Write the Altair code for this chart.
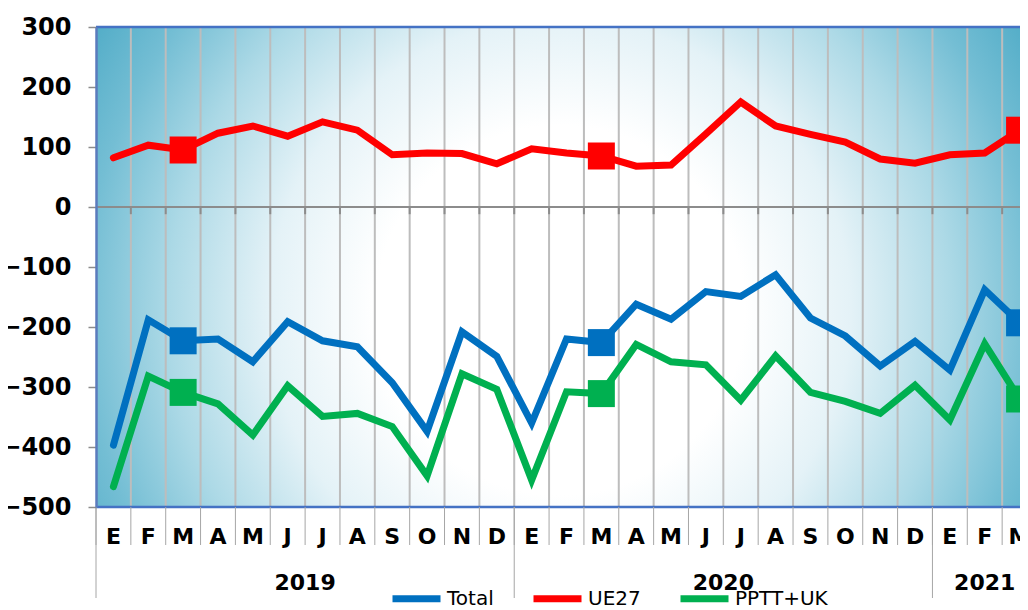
import altair as alt
import pandas as pd

months = ["E", "F", "M", "A", "M", "J", "J", "A", "S", "O", "N", "D",
          "E", "F", "M", "A", "M", "J", "J", "A", "S", "O", "N", "D",
          "E", "F", "M"]
years = ["2019", "2020", "2021"]
year_start = [0, 12, 24]
year_len = [12, 12, 3]

total = [-397, -188, -223, -220, -258, -191, -223, -233, -293, -374, -208, -249,
         -360, -220, -226, -162, -187, -141, -149, -113, -185, -215, -265, -224,
         -272, -138, -193]
ue27 = [82, 103, 95, 123, 135, 118, 142, 128, 87, 90, 89, 72,
        97, 90, 85, 68, 70, 122, 175, 135, 121, 108, 80, 73,
        87, 90, 128]
pptt = [-466, -282, -309, -328, -380, -298, -349, -344, -366, -448, -278, -304,
        -455, -308, -311, -229, -258, -263, -322, -248, -309, -324, -344, -297,
        -355, -228, -320]
marker_idx = [2, 14, 26]

series = ["Total", "UE27", "PPTT+UK"]
colors = ["#0070C0", "#FF0000", "#00B050"]
y_ticks = [-500, -400, -300, -200, -100, 0, 100, 200, 300]

W, H = 924, 480
NCOL = len(months)
COLW = 941 / NCOL
XMAX = W / COLW

rows = []
for name, vals in zip(series, [total, ue27, pptt]):
    for i, v in enumerate(vals):
        rows.append({"pos": i + 0.5, "value": v, "series": name,
                     "marker": i in marker_idx})
df = pd.DataFrame(rows)

xscale = alt.Scale(domain=[0, XMAX], nice=False, zero=False)
yscale = alt.Scale(domain=[-500, 300], nice=False, zero=False)
yaxis = alt.Axis(values=y_ticks, title=None, grid=False,
                 labelFont="DejaVu Sans", labelFontWeight="bold", labelFontSize=24,
                 labelColor="#000000", labelPadding=17,
                 tickColor="#8c8c8c", tickSize=8, tickWidth=1.5,
                 domainColor="#5b7bbd", domainWidth=2.5, zindex=1)


def X(field):
    return alt.X(field, type="quantitative", scale=xscale, axis=None)


def Y(field):
    return alt.Y(field, type="quantitative", scale=yscale, axis=yaxis)


one = pd.DataFrame({"a": [0]})

grad = alt.RadialGradient(
    gradient="radial",
    stops=[
        alt.GradientStop(offset=0, color="#ffffff"),
        alt.GradientStop(offset=0.33, color="#ffffff"),
        alt.GradientStop(offset=0.52, color="#e4f2f7"),
        alt.GradientStop(offset=0.7, color="#acd9e6"),
        alt.GradientStop(offset=0.85, color="#74bed4"),
        alt.GradientStop(offset=1, color="#4ba9c5"),
    ],
    x1=0.493, y1=0.546, x2=0.493, y2=0.546, r1=0, r2=0.595,
)
bg = alt.Chart(one).mark_rect(fill=grad, strokeWidth=0).encode(
    x=alt.value(0), x2=alt.value(941), y=alt.value(0), y2=alt.value(H)
)

grid_df = pd.DataFrame({"b": list(range(1, NCOL))})
grid = alt.Chart(grid_df).mark_rule(color="#bdbdbd", strokeWidth=2).encode(
    x=X("b"), y=alt.value(0), y2=alt.value(H)
)

zero_df = pd.DataFrame({"v": [0]})
zero_line = alt.Chart(zero_df).mark_rule(color="#8c8c8c", strokeWidth=2).encode(
    y=Y("v"), x=alt.value(0), x2=alt.value(W)
)
zt_df = pd.DataFrame({"b": list(range(1, NCOL)), "v": [0] * (NCOL - 1),
                      "v2": [-12] * (NCOL - 1)})
zero_ticks = alt.Chart(zt_df).mark_rule(color="#8c8c8c", strokeWidth=2).encode(
    x=X("b"), y=Y("v"), y2="v2:Q"
)

lines = alt.Chart(df).mark_line(strokeWidth=7, strokeCap="round", strokeJoin="miter").encode(
    x=X("pos"), y=Y("value"),
    color=alt.Color("series:N", scale=alt.Scale(domain=series, range=colors),
                    legend=alt.Legend(orient="none", legendX=293, legendY=544,
                                      direction="horizontal", title=None,
                                      symbolType="stroke", symbolSize=2304,
                                      symbolStrokeWidth=7, labelFont="DejaVu Sans",
                                      labelFontSize=20, labelColor="#000000",
                                      labelOffset=3, columnPadding=25, padding=0)),
    detail="series:N",
)
squares = alt.Chart(df[df["marker"]]).mark_square(size=729, opacity=1, filled=True).encode(
    x=X("pos"), y=Y("value"),
    color=alt.Color("series:N", scale=alt.Scale(domain=series, range=colors), legend=None),
)

top_border = alt.Chart(one).mark_rule(color="#4472C4", strokeWidth=2.5).encode(
    x=alt.value(0), x2=alt.value(W), y=alt.value(0)
)
bottom_border = alt.Chart(one).mark_rule(color="#4472C4", strokeWidth=2.5).encode(
    x=alt.value(0), x2=alt.value(W), y=alt.value(H)
)

sep_df = pd.DataFrame({"b": list(range(0, NCOL))})
seps = alt.Chart(sep_df).mark_rule(color="#a6a6a6", strokeWidth=1).encode(
    x=X("b"), y=alt.value(H), y2=alt.value(H + 38)
)
ysep_df = pd.DataFrame({"b": year_start})
yseps = alt.Chart(ysep_df).mark_rule(color="#a6a6a6", strokeWidth=1).encode(
    x=X("b"), y=alt.value(H), y2=alt.value(H + 91)
)

month_df = pd.DataFrame({"pos": [i + 0.5 for i in range(NCOL)], "m": months})
month_text = alt.Chart(month_df).mark_text(
    font="DejaVu Sans", fontWeight="bold", fontSize=22, color="#000000",
    baseline="middle", align="center"
).encode(x=X("pos"), y=alt.value(H + 30), text="m:N")

year_df = pd.DataFrame({"pos": [s + l / 2 for s, l in zip(year_start, year_len)],
                        "y": years})
year_text = alt.Chart(year_df).mark_text(
    font="DejaVu Sans", fontWeight="bold", fontSize=22, color="#000000",
    baseline="middle", align="center"
).encode(x=X("pos"), y=alt.value(H + 76), text="y:N")

chart = alt.layer(
    bg, grid, zero_line, zero_ticks, lines, squares, top_border, bottom_border,
    seps, yseps, month_text, year_text
).properties(
    width=W, height=H,
    autosize=alt.AutoSizeParams(type="none"),
    padding={"left": 88, "top": 19, "right": 0, "bottom": 100},
).configure_view(stroke=None).configure(background="#ffffff")

chart.save("out.html", embed_options={"renderer": "svg", "actions": False})
